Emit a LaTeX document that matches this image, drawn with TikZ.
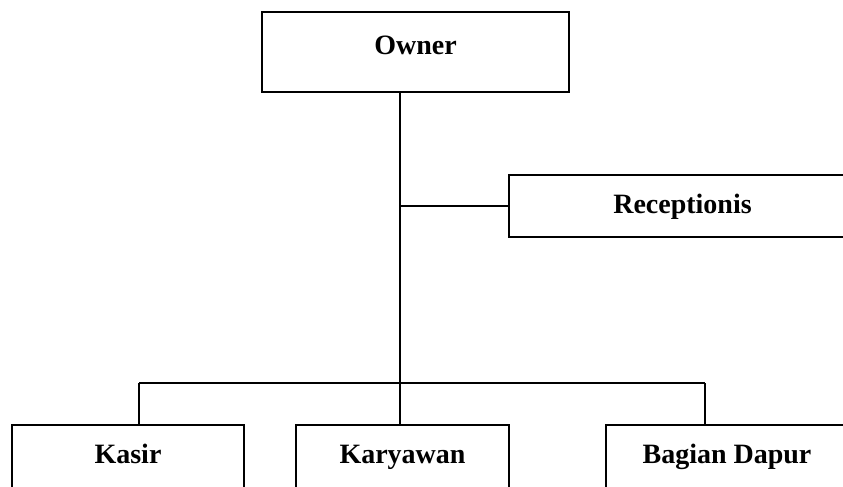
\documentclass[tikz,border=0pt]{standalone}
\usepackage{fontspec}
\setmainfont{Liberation Serif}

\begin{document}
\begin{tikzpicture}
	[x=1pt,y=-1pt,line width=1.8pt,every node/.style={rectangle, draw, line width=2pt, inner sep=0pt, font=\fontsize{28}{32}\selectfont\bfseries, text height=20pt, text depth=6pt}]
	\clip (0,0) rectangle (843,487);
	\node[minimum width=307pt, minimum height=80pt, text depth=14pt] (owner) at (415.5,52) {Owner};
	\node[minimum width=347pt, minimum height=62pt] (recep) at (682.5,206) {Receptionis};
	\node[minimum width=232pt, minimum height=63pt] (kasir) at (128,456.5) {Kasir};
	\node[minimum width=213pt, minimum height=63pt] (karyawan) at (402.5,456.5) {Karyawan};
	\node[minimum width=242pt, minimum height=63pt] (dapur) at (727,456.5) {Bagian Dapur};
	
	\coordinate (bus) at (400,383);
	\coordinate (bl) at (139,383);
	\coordinate (br) at (705,383);
	
	\draw (owner.south -| bus) -- (bus);
	\draw (recep.west) -- (recep.west -| bus);
	\draw (bl) -- (br);
	\draw (bl) -- (bl |- kasir.north);
	\draw (bus) -- (bus |- karyawan.north);
	\draw (br) -- (br |- dapur.north);
\end{tikzpicture}
\end{document}
